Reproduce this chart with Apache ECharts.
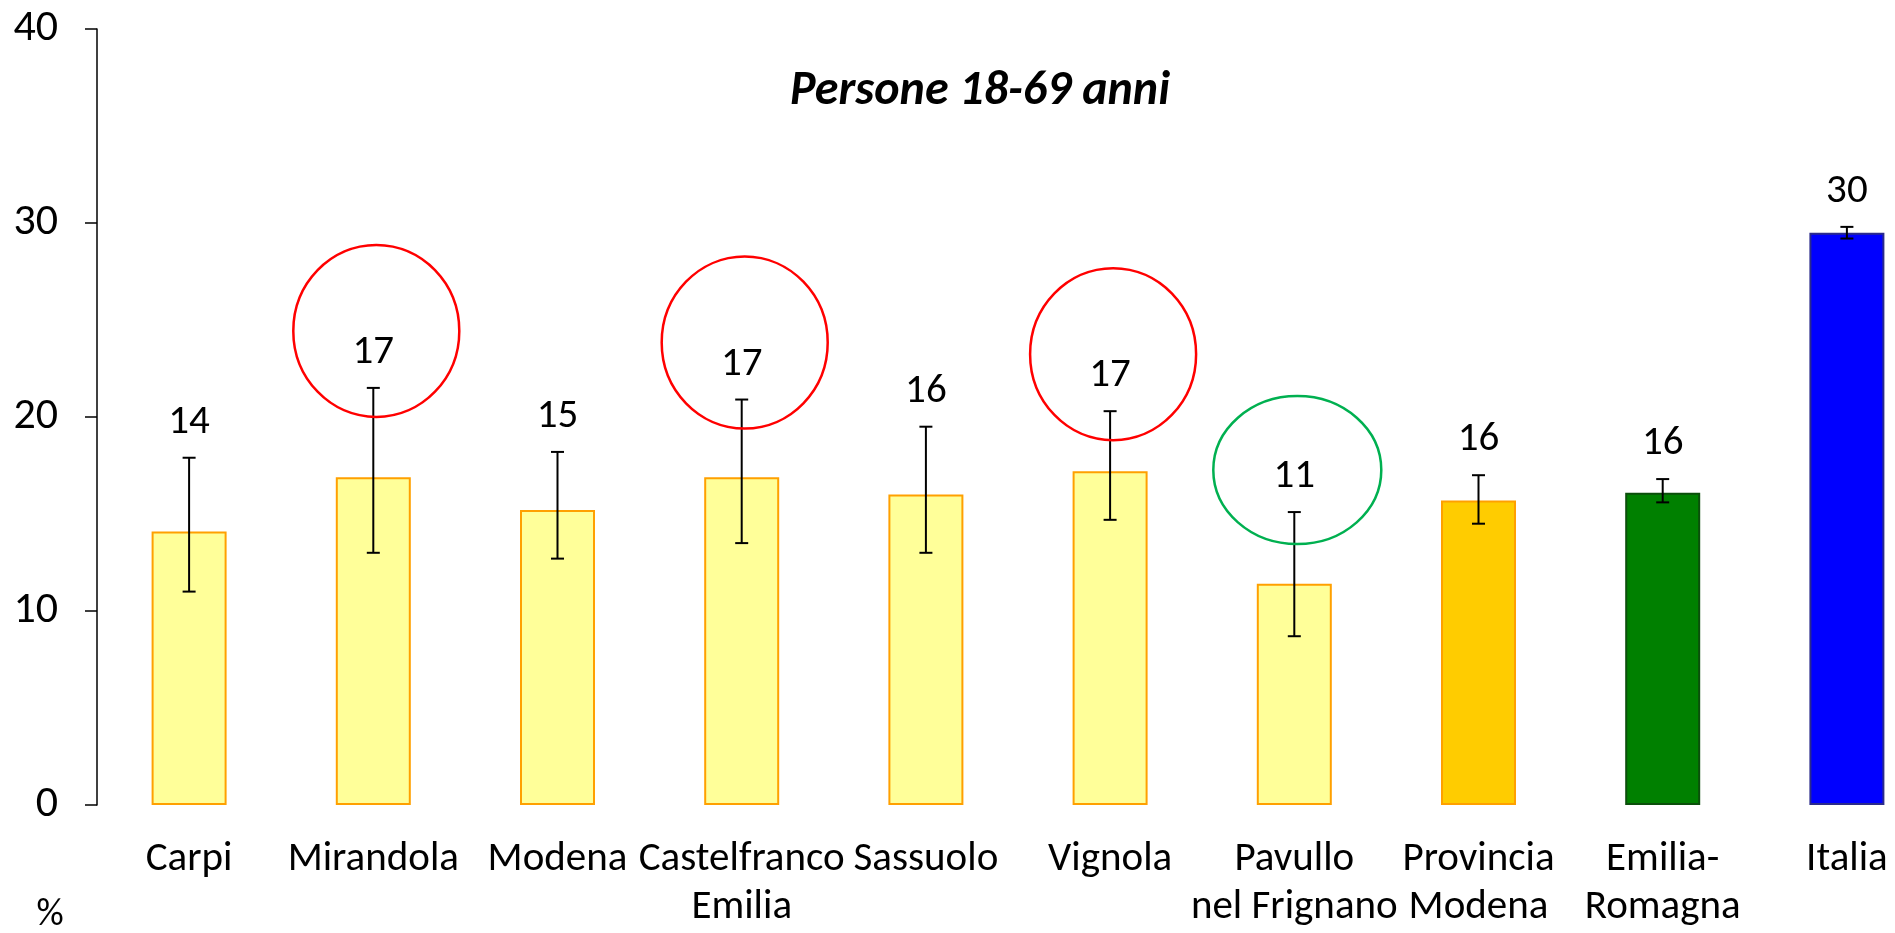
<!DOCTYPE html>
<html>
<head>
<meta charset="utf-8">
<script src="https://cdn.jsdelivr.net/npm/echarts@6/dist/echarts.min.js"></script>
<style>
html,body{margin:0;padding:0;background:#fff;}
#chart{width:1895px;height:933px;}
</style>
</head>
<body>
<div id="chart"></div>
<script>
// ---- data ----
var categories = ['Carpi', 'Mirandola', 'Modena', 'Castelfranco\nEmilia', 'Sassuolo', 'Vignola',
                  'Pavullo\nnel Frignano', 'Provincia\nModena', 'Emilia-\nRomagna', 'Italia'];
var values = [14.1, 16.9, 15.2, 16.9, 16.0, 17.2, 11.4, 15.7, 16.1, 29.5];
var lower  = [11.0, 13.0, 12.7, 13.5, 13.0, 14.7, 8.7, 14.5, 15.6, 29.2];
var upper  = [17.9, 21.5, 18.2, 20.9, 19.5, 20.3, 15.1, 17.0, 16.8, 29.8];
var yTicks = [0, 10, 20, 30, 40];
var titleText = 'Persone 18-69 anni';
var unitText = '%';
// highlight rings (annotation colour per category, null = none)
var rings = [null, 'red', null, 'red', null, 'red', 'green', null, null, null];

// ---- styles ----
var FONT = 'Carlito, Lato, sans-serif';
var barFill   = ['#FFFF99','#FFFF99','#FFFF99','#FFFF99','#FFFF99','#FFFF99','#FFFF99','#FFCC00','#008000','#0000FF'];
var barBorder = ['#FFA000','#FFA000','#FFA000','#FFA000','#FFA000','#FFA000','#FFA000','#FFA000','#0B4F0B','#2B2B8C'];
var ringStyle = {
  red:   { color: '#FF0000', rx: 83, ry: 86, dy: -22 },
  green: { color: '#00B050', rx: 84, ry: 74, dy: -7 }
};

var chart = echarts.init(document.getElementById('chart'), null, {renderer: 'canvas'});

var option = {
  animation: false,
  backgroundColor: '#fff',
  title: {
    text: titleText,
    left: 975,
    top: 63,
    textAlign: 'center',
    textStyle: { fontFamily: FONT, fontSize: 48, fontWeight: 'bold', fontStyle: 'italic', color: '#000' }
  },
  graphic: [{
    type: 'text', x: 50, y: 915,
    style: { text: unitText, font: '38px ' + FONT, fill: '#000', textAlign: 'center', textVerticalAlign: 'middle' }
  }],
  grid: { left: 97, top: 29, width: 1842, height: 776, containLabel: false, outerBoundsMode: 'none' },
  xAxis: {
    type: 'category',
    data: categories,
    axisLine: { show: false },
    axisTick: { show: false },
    axisLabel: {
      interval: 0, margin: 31, color: '#000',
      fontFamily: FONT, fontSize: 41, lineHeight: 48
    }
  },
  yAxis: {
    type: 'value', min: 0, max: 40, interval: 10,
    axisLine: { show: true, lineStyle: { color: '#000', width: 1.5 } },
    axisTick: { show: true, inside: false, length: 12, lineStyle: { color: '#000', width: 1.5 } },
    splitLine: { show: false },
    axisLabel: {
      margin: 39, color: '#000', fontFamily: FONT, fontSize: 44,
      formatter: function (v) { return yTicks.indexOf(v) >= 0 ? String(v) : ''; }
    }
  },
  series: [
    {
      type: 'bar',
      barWidth: 75,
      data: values.map(function (v, i) {
        return { value: v, itemStyle: { color: barFill[i], borderColor: barBorder[i], borderWidth: 2 } };
      }),
      z: 2
    },
    {
      type: 'custom',
      z: 5,
      data: values.map(function (v, i) { return [i, lower[i], upper[i], Math.round(v)]; }),
      renderItem: function (params, api) {
        var i = api.value(0);
        var lo = api.coord([i, api.value(1)]);
        var hi = api.coord([i, api.value(2)]);
        var x = lo[0];
        var cap = 6.5;
        var ls = { stroke: '#000', lineWidth: 2 };
        var labelY = hi[1] - 35;
        var children = [
          { type: 'line', shape: { x1: x, y1: lo[1], x2: x, y2: hi[1] }, style: ls },
          { type: 'line', shape: { x1: x - cap, y1: lo[1], x2: x + cap, y2: lo[1] }, style: ls },
          { type: 'line', shape: { x1: x - cap, y1: hi[1], x2: x + cap, y2: hi[1] }, style: ls },
          { type: 'text', style: { x: x, y: labelY, text: String(api.value(3)), font: '41px ' + FONT,
              fill: '#000', textAlign: 'center', textVerticalAlign: 'middle' } }
        ];
        var r = rings[params.dataIndex];
        if (r) {
          var rs = ringStyle[r];
          children.push({
            type: 'ellipse',
            shape: { cx: x + 3, cy: labelY + rs.dy, rx: rs.rx, ry: rs.ry },
            style: { fill: 'none', stroke: rs.color, lineWidth: 2.5 }
          });
        }
        return { type: 'group', children: children };
      }
    }
  ]
};
chart.setOption(option);
</script>
</body>
</html>
